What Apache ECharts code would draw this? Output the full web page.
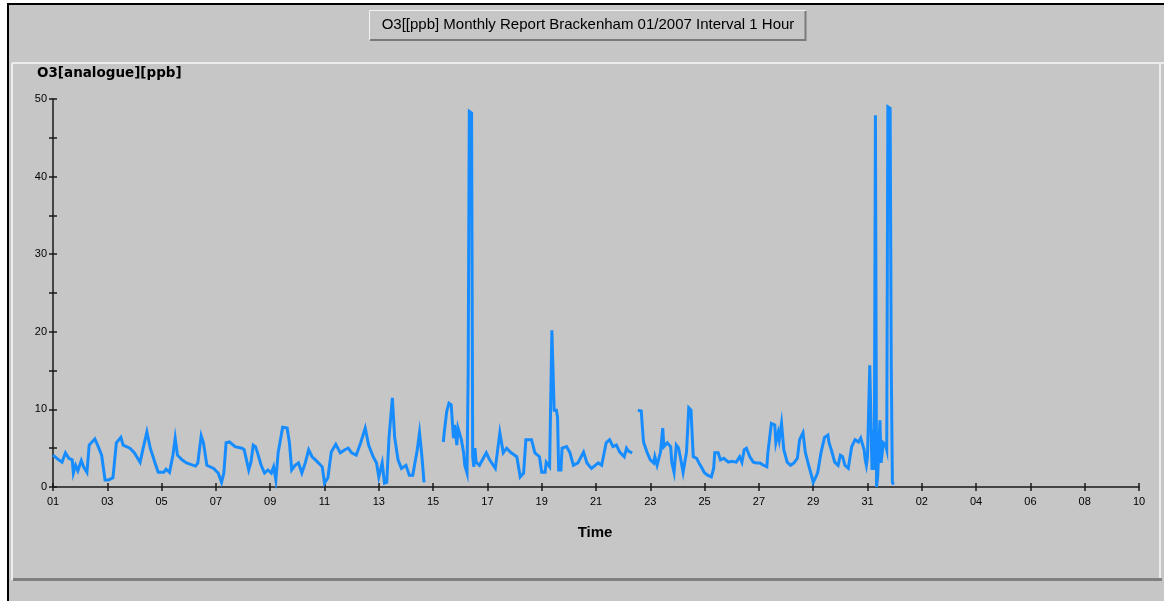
<!DOCTYPE html>
<html>
<head>
<meta charset="utf-8">
<script src="https://cdn.jsdelivr.net/npm/echarts@6/dist/echarts.min.js"></script>
<style>
html,body{margin:0;padding:0;background:#ffffff;}
#chart{width:1164px;height:601px;}
</style>
</head>
<body>
<div id="chart"></div>
<script>
// ---- data (hours since 01/01/2007 00:00, O3 ppb) ----
var titleText = 'O3[[ppb] Monthly Report Brackenham 01/2007 Interval 1 Hour';
var yAxisTitle = 'O3[analogue][ppb]';
var xAxisTitle = 'Time';
var xTickLabels = ['01','03','05','07','09','11','13','15','17','19','21','23','25','27','29','31','02','04','06','08','10'];
var yTickLabels = ['0','10','20','30','40','50'];

var seg1Hours = [0,5,8,11,14,17,18,20,22,25,27,30,32,37,40,43,46,49,53,56,60,62,68,72,77,80,83,86,90,93,98,100,103,106,108,110,114,118,126,128,131,133,136,142,146,149,151,153,156,161,167,169,173,175,177,179,181,184,187,190,193,195,197,199,203,207,209,211,214,217,220,223,226,229,232,238,240,243,246,250,254,258,261,264,268,272,276,279,283,286,288,291,293,295,297,300,302,305,308,312,315,318,322,324,326,328];
var seg1Values = [4.1,3.5,3.2,4.4,3.7,3.5,1.8,2.8,2.1,3.4,2.6,1.9,5.4,6.2,5.2,4.1,0.9,0.9,1.2,5.7,6.4,5.4,5.0,4.4,3.2,5.2,7.1,5.0,3.2,1.9,1.9,2.3,1.9,4.1,6.3,4.1,3.5,3.1,2.7,3.1,6.6,5.7,2.8,2.4,1.8,0.6,1.8,5.7,5.8,5.2,5.0,4.8,2.2,3.2,5.4,5.2,4.3,2.8,1.8,2.2,1.8,2.6,0.9,4.4,7.7,7.6,5.7,2.2,2.8,3.1,1.8,3.1,4.8,3.9,3.5,2.6,0.5,1.2,4.5,5.5,4.4,4.8,5.0,4.4,4.1,5.7,7.6,5.4,3.9,3.1,1.3,3.1,0.5,0.6,6.3,11.5,6.4,3.5,2.4,2.8,1.5,1.5,4.8,7.0,4.1,0.6];

var seg2Hours = [345,346,348,350,352,354,355,357,358,361,363,364,366,367,368,370,371,372,373,374,377,383,386,391,395,398,401,405,410,413,416,418,423,426,430,432,435,436,439,441,442,443,445,446,447,449,450,454,457,460,464,469,472,476,482,485,489,492,495,498,501,505,507,509,512];
var seg2Values = [5.8,7.2,9.7,10.8,10.6,6.3,8.0,5.4,7.6,6.1,4.4,2.8,1.8,14.9,48.4,48.2,3.9,2.6,5.0,3.2,2.8,4.4,3.5,2.4,7.0,4.4,5.0,4.4,3.9,1.3,1.8,6.1,6.1,4.4,3.9,1.9,1.9,3.2,2.6,20.2,20.2,9.9,9.9,9.0,2.2,2.2,5.0,5.2,4.4,2.8,3.1,4.5,3.1,2.4,3.1,2.8,5.7,6.1,5.2,5.4,4.5,3.9,5.0,4.6,4.4];

var seg3Hours = [517,520,521,522,525,528,531,532,534,537,539,540,543,546,547,549,551,553,555,557,560,562,564,565,566,569,571,573,576,579,582,584,585,588,590,593,597,600,604,607,609,611,613,616,619,622,625,628,631,632,635,638,639,641,642,644,645,646,649,652,655,658,660,663,665,668,671,672,675,676,679,682,685,686,688,691,694,696,698,700,703,706,709,712,714,717,718,719,720,722,723,724,725,726,727,728,729,731,732,734,736,737,738,740,741,742,743];
var seg3Values = [9.9,9.8,7.7,5.8,4.5,3.5,3.1,3.9,2.8,4.5,7.6,5.2,5.7,5.2,3.2,1.9,5.4,5.0,3.5,1.9,4.5,10.2,9.9,6.7,3.9,3.7,3.1,2.6,1.8,1.5,1.3,2.4,4.4,4.4,3.5,3.7,3.2,3.3,3.2,3.9,3.2,4.8,5.0,3.9,3.2,3.1,3.1,2.8,2.6,4.5,8.2,8.0,5.7,7.0,6.1,8.2,8.0,4.8,3.2,2.8,3.1,3.7,6.1,7.0,4.5,2.8,1.2,0.6,1.5,1.9,4.5,6.4,6.7,5.7,4.8,3.2,2.8,4.1,3.9,2.8,2.4,5.2,6.1,5.8,6.3,4.8,3.5,2.8,3.9,15.7,15.5,2.2,7.3,2.2,47.9,0.0,1.3,8.6,3.1,5.7,5.4,4.8,49.0,48.8,15.5,0.6,0.3];

// ---- build series data (gaps break the line) ----
function seg(hours, vals){ var out=[]; for(var i=0;i<hours.length;i++){ out.push([hours[i], vals[i]]); } return out; }
var lineData = [].concat(
  seg(seg1Hours, seg1Values), [[336, '-']],
  seg(seg2Hours, seg2Values), [[514, '-']],
  seg(seg3Hours, seg3Values)
);

var chart = echarts.init(document.getElementById('chart'), null, {renderer:'canvas'});
var FONT = '"Liberation Sans", Arial, sans-serif';
var AX = '#1a1a1a';
var GRAY = '#c6c6c6';

var xBase = {
  type:'value', min:0, max:960, interval:48, gridIndex:0, position:'bottom',
  splitLine:{show:false}
};
var yBase = {
  type:'value', min:0, max:50, interval:5, gridIndex:0, position:'left',
  splitLine:{show:false}
};

var option = {
  backgroundColor:'#ffffff',
  animation:false,
  graphic:[
    {type:'rect', z:-10, shape:{x:8, y:4, width:1170, height:610}, style:{fill:GRAY, stroke:'#000', lineWidth:2}},
    // inner panel edges
    {type:'line', z:-9, shape:{x1:12, y1:63, x2:1164, y2:63}, style:{stroke:'#ececec', lineWidth:2}},
    {type:'line', z:-9, shape:{x1:12, y1:63, x2:12, y2:580}, style:{stroke:'#ececec', lineWidth:2}},
    {type:'line', z:-9, shape:{x1:1160, y1:63, x2:1160, y2:580}, style:{stroke:'#ececec', lineWidth:2}},
    {type:'line', z:-9, shape:{x1:13, y1:579.5, x2:1162, y2:579.5}, style:{stroke:'#808080', lineWidth:3}},
    // title box
    {type:'rect', z:-8, shape:{x:369, y:10, width:437, height:30}, style:{fill:GRAY, stroke:null}},
    {type:'polyline', z:-7, shape:{points:[[369.5,40],[369.5,10.5],[806,10.5]]}, style:{stroke:'#f2f2f2', lineWidth:1, fill:null}},
    {type:'polyline', z:-7, shape:{points:[[370,40],[805.5,40],[805.5,11]]}, style:{stroke:'#7a7a7a', lineWidth:2, fill:null}},
    {type:'text', z:5, style:{text:titleText, x:588, y:25, align:'center', verticalAlign:'middle', font:'15px ' + FONT, fill:'#000'}},
    {type:'text', z:5, style:{text:yAxisTitle, x:37, y:73, align:'left', verticalAlign:'middle', font:'bold 13.5px "DejaVu Sans", sans-serif', fill:'#000'}},
    {type:'text', z:5, style:{text:xAxisTitle, x:595, y:533, align:'center', verticalAlign:'middle', font:'bold 15px ' + FONT, fill:'#000'}}
  ],
  grid:{left:53, top:99, width:1086, height:388, containLabel:false},
  xAxis:[
    Object.assign({}, xBase, {
      axisLine:{show:true, onZero:false, lineStyle:{color:AX, width:1.5}},
      axisTick:{show:true, length:4, lineStyle:{color:AX, width:1.5}},
      axisLabel:{show:true, margin:9, color:'#000', fontSize:11, fontFamily:FONT,
        formatter:function(v){ return xTickLabels[Math.round(v/48)] || ''; }}
    }),
    Object.assign({}, xBase, {
      axisLine:{show:false},
      axisTick:{show:true, inside:true, length:4, lineStyle:{color:AX, width:1.5}},
      axisLabel:{show:false}
    })
  ],
  yAxis:[
    Object.assign({}, yBase, {
      axisLine:{show:true, onZero:false, lineStyle:{color:AX, width:1.5}},
      axisTick:{show:true, length:4, lineStyle:{color:AX, width:1.5}},
      axisLabel:{show:true, margin:6, color:'#000', fontSize:11, fontFamily:FONT,
        formatter:function(v){ return (v % 10 === 0) ? yTickLabels[v/10] : ''; }}
    }),
    Object.assign({}, yBase, {
      axisLine:{show:false},
      axisTick:{show:true, inside:true, length:4, lineStyle:{color:AX, width:1.5}},
      axisLabel:{show:false}
    })
  ],
  series:[{
    type:'line', xAxisIndex:0, yAxisIndex:0,
    data:lineData, showSymbol:false, connectNulls:false,
    lineStyle:{color:'#168cff', width:3, join:'miter'},
    itemStyle:{color:'#168cff'}
  }]
};
chart.setOption(option);
</script>
</body>
</html>
